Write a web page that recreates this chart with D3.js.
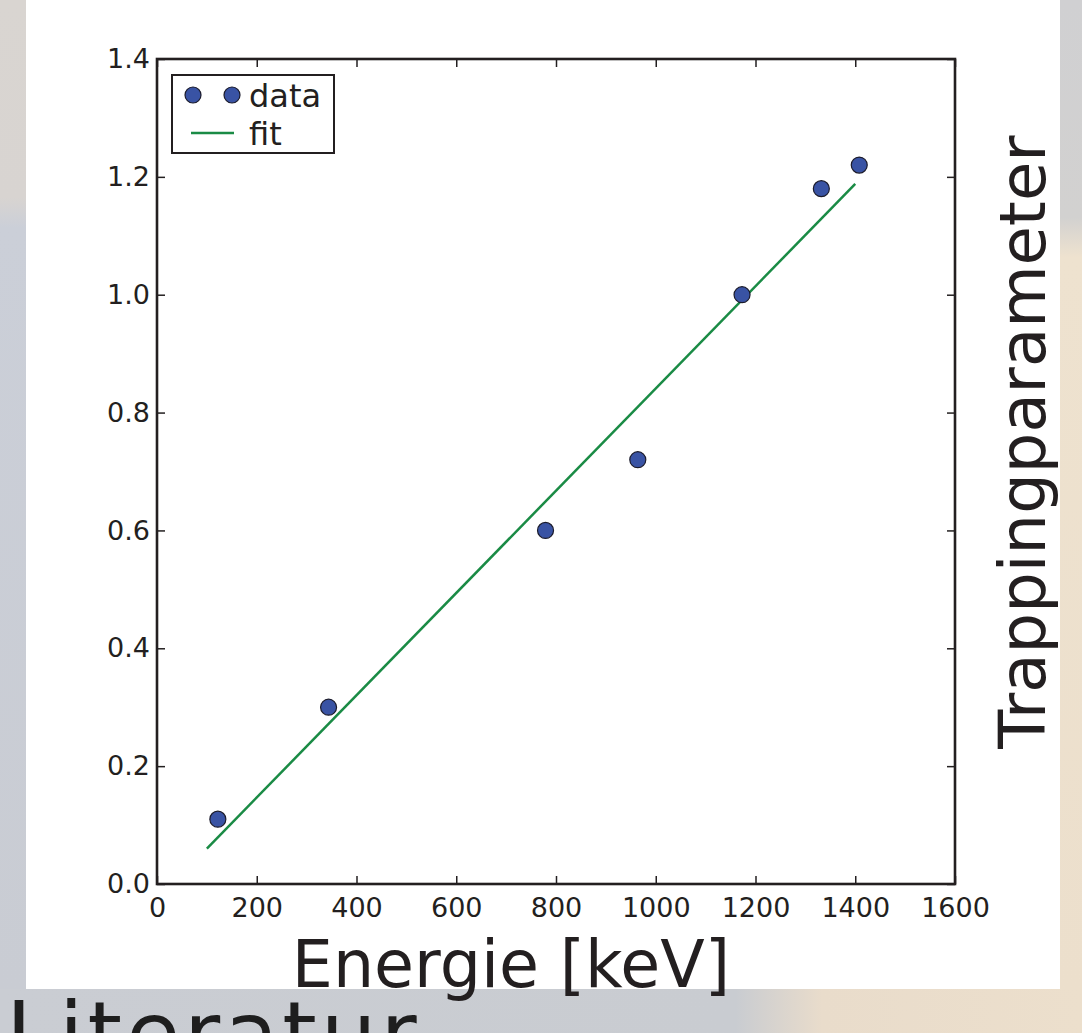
<!DOCTYPE html>
<html><head><meta charset="utf-8">
<script src="https://cdn.jsdelivr.net/npm/d3@7/dist/d3.min.js"></script>
<style>body{margin:0;overflow:hidden;background:#fff;} text{font-family:"DejaVu Sans",sans-serif;fill:#231f20;}</style>
</head><body><svg id="c" width="1082" height="1033"></svg>
<script>
const energies = [122, 344, 779, 964, 1173, 1332, 1408];
const trapping = [0.11, 0.30, 0.60, 0.72, 1.00, 1.18, 1.22];
const fitEnergies = [100, 1400];
const fitValues = [0.060, 1.188];
const xTicks = [0, 200, 400, 600, 800, 1000, 1200, 1400, 1600];
const yTicks = [0.0, 0.2, 0.4, 0.6, 0.8, 1.0, 1.2, 1.4];
const seriesLabels = ["data", "fit"];
const xTitle = "Energie [keV]";
const yTitle = "Trappingparameter";
const slideText = "Literatur";

const svg = d3.select("#c");
const ink = "#231f20";

// background (blurred slide)
const defs = svg.append("defs");
const gB = defs.append("linearGradient").attr("id","gb").attr("x1",0).attr("x2",1).attr("y1",0).attr("y2",0);
gB.append("stop").attr("offset","0").attr("stop-color","#cacdd3");
gB.append("stop").attr("offset","0.68").attr("stop-color","#c9ccd1");
gB.append("stop").attr("offset","0.76").attr("stop-color","#e9dccb");
gB.append("stop").attr("offset","1").attr("stop-color","#ecdfcc");
const gL = defs.append("linearGradient").attr("id","gl").attr("x1",0).attr("x2",0).attr("y1",0).attr("y2",1);
gL.append("stop").attr("offset","0").attr("stop-color","#d9d5d1");
gL.append("stop").attr("offset","0.20").attr("stop-color","#d8d4d1");
gL.append("stop").attr("offset","0.23").attr("stop-color","#cbcfd8");
gL.append("stop").attr("offset","1").attr("stop-color","#c9ccd3");
const gR = defs.append("linearGradient").attr("id","gr").attr("x1",0).attr("x2",0).attr("y1",0).attr("y2",1);
gR.append("stop").attr("offset","0").attr("stop-color","#d0d0d2");
gR.append("stop").attr("offset","0.22").attr("stop-color","#d2d1d0");
gR.append("stop").attr("offset","0.26").attr("stop-color","#eee2cf");
gR.append("stop").attr("offset","1").attr("stop-color","#ecdfcc");

svg.append("rect").attr("x",0).attr("y",0).attr("width",1082).attr("height",1033).attr("fill","url(#gb)");
svg.append("rect").attr("x",0).attr("y",0).attr("width",26).attr("height",989).attr("fill","url(#gl)");
svg.append("rect").attr("x",1060).attr("y",0).attr("width",22).attr("height",989).attr("fill","url(#gr)");
svg.append("text").attr("x",6).attr("y",1064).style("font-size","88px").style("letter-spacing","4px")
  .style("fill","#1e1e1e").text(slideText);
svg.append("rect").attr("x",26).attr("y",0).attr("width",1034).attr("height",989).attr("fill","#fff");

// plot
const L = 157, R = 955, T = 59, B = 884;
const x = d3.scaleLinear().domain([0,1600]).range([L,R]);
const y = d3.scaleLinear().domain([0,1.4]).range([B,T]);

function styleAxis(g){
  g.select(".domain").remove();
  g.selectAll(".tick line").attr("stroke",ink).attr("stroke-width",1.5);
  g.selectAll(".tick text").style("font-size","27px").attr("fill",ink);
}
svg.append("g").attr("transform",`translate(0,${B})`)
  .call(d3.axisBottom(x).tickValues(xTicks).tickSizeInner(-8).tickSizeOuter(0).tickPadding(14).tickFormat(d3.format("d")))
  .call(styleAxis);
svg.append("g").attr("transform",`translate(0,${T})`)
  .call(d3.axisTop(x).tickValues(xTicks).tickSizeInner(-8).tickSizeOuter(0).tickFormat(""))
  .call(styleAxis);
svg.append("g").attr("transform",`translate(${L},0)`)
  .call(d3.axisLeft(y).tickValues(yTicks).tickSizeInner(-8).tickSizeOuter(0).tickPadding(7).tickFormat(d3.format(".1f")))
  .call(styleAxis);
svg.append("g").attr("transform",`translate(${R},0)`)
  .call(d3.axisRight(y).tickValues(yTicks).tickSizeInner(-8).tickSizeOuter(0).tickFormat(""))
  .call(styleAxis);

// fit line
const line = d3.line().x(d=>x(d[0])).y(d=>y(d[1]));
svg.append("path").datum(d3.zip(fitEnergies, fitValues)).attr("d", line)
  .attr("fill","none").attr("stroke","#1a8b45").attr("stroke-width",2.5);

// data points
svg.append("g").selectAll("circle").data(d3.zip(energies, trapping)).join("circle")
  .attr("cx",d=>x(d[0])).attr("cy",d=>y(d[1])).attr("r",8)
  .attr("fill","#3953a4").attr("stroke","#1b1b2b").attr("stroke-width",1.2);

// frame
svg.append("rect").attr("x",L).attr("y",T).attr("width",R-L).attr("height",B-T)
  .attr("fill","none").attr("stroke",ink).attr("stroke-width",2.6);

// legend
const lg = svg.append("g");
lg.append("rect").attr("x",172).attr("y",75).attr("width",162).attr("height",78)
  .attr("fill","#fff").attr("stroke",ink).attr("stroke-width",2);
[193,232].forEach(cx=>lg.append("circle").attr("cx",cx).attr("cy",95).attr("r",8)
  .attr("fill","#3953a4").attr("stroke","#1b1b2b").attr("stroke-width",1.2));
lg.append("text").attr("x",249).attr("y",107).style("font-size","32px").text(seriesLabels[0]);
lg.append("line").attr("x1",191).attr("x2",234).attr("y1",133).attr("y2",133)
  .attr("stroke","#1a8b45").attr("stroke-width",2.5);
lg.append("text").attr("x",249).attr("y",145).style("font-size","32px").text(seriesLabels[1]);

// axis titles
svg.append("text").attr("x",511).attr("y",987).attr("text-anchor","middle").style("font-size","65px").text(xTitle);
svg.append("text").attr("transform","translate(1045,442) rotate(-90)").attr("text-anchor","middle")
  .style("font-size","64px").text(yTitle);
</script></body></html>
